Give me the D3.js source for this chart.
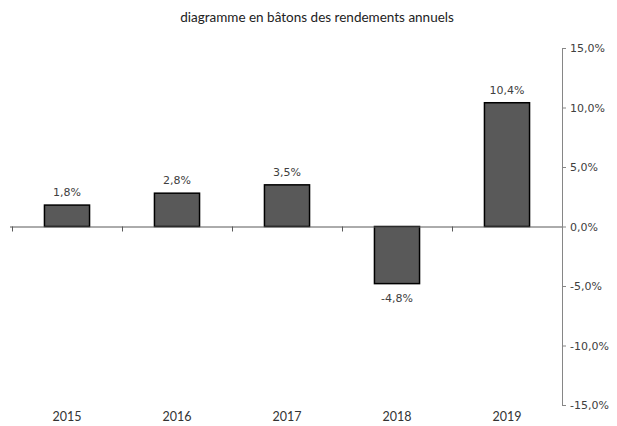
<!DOCTYPE html>
<html>
<head>
<meta charset="utf-8">
<script src="https://cdn.jsdelivr.net/npm/d3@7"></script>
<style>
  body { margin: 0; background: #fff; }
  svg { display: block; }
</style>
</head>
<body>
<svg id="chart" width="617" height="426"></svg>
<script>
// data
let years = ["2015", "2016", "2017", "2018", "2019"];
let returns = [1.8, 2.8, 3.5, -4.8, 10.4];
let yTicks = [-15, -10, -5, 0, 5, 10, 15];

let fmt = v => d3.format(".1f")(v).replace(".", ",").replace("−", "-") + "%";

function createBarChart() {
    let svg = d3.select("#chart");

    // scales
    let xScale = d3.scaleBand()
        .domain(years)
        .range([12, 562])
        .paddingInner(0.59)
        .paddingOuter(0.295);

    let yScale = d3.scaleLinear()
        .domain([-15, 15])
        .range([405, 48]);

    // title
    svg.append("text")
        .attr("x", 317)
        .attr("y", 22)
        .attr("text-anchor", "middle")
        .attr("font-family", "Lato, 'Open Sans', sans-serif")
        .attr("font-size", "13.5px")
        .attr("fill", "#222")
        .text("diagramme en bâtons des rendements annuels");

    // right y axis
    let yAxis = d3.axisRight(yScale)
        .tickValues(yTicks)
        .tickSize(4)
        .tickPadding(4)
        .tickFormat(fmt);
    let yAxisGroup = svg.append("g")
        .attr("transform", "translate(562,0)")
        .call(yAxis);
    yAxisGroup.select(".domain").attr("stroke", "#868686").attr("d", "M4,48.5H0.5V405.5H4");
    yAxisGroup.selectAll(".tick line").attr("stroke", "#868686");
    yAxisGroup.selectAll(".tick text")
        .attr("font-family", "'DejaVu Sans', Verdana, sans-serif")
        .attr("font-size", "11px")
        .attr("fill", "#404040");

    // bars
    svg.selectAll(".bar")
        .data(returns)
        .enter()
        .append("rect")
        .attr("class", "bar")
        .attr("x", (d, i) => xScale(years[i]))
        .attr("y", d => yScale(Math.max(0, d)))
        .attr("width", xScale.bandwidth())
        .attr("height", d => Math.abs(yScale(d) - yScale(0)))
        .attr("fill", "#595959")
        .attr("stroke", "#000")
        .attr("stroke-width", 1.5);

    // x axis (zero line) with category ticks
    let xAxis = d3.axisBottom(xScale).tickSize(0).tickFormat("");
    let xAxisGroup = svg.append("g")
        .attr("transform", `translate(0, ${yScale(0)})`)
        .call(xAxis);
    xAxisGroup.select(".domain").attr("stroke", "#595959").attr("d", "M10,0.5H562");
    let step = xScale.step();
    let bounds = d3.range(years.length).map(i => xScale(years[i]) - xScale.paddingInner() * step / 2);
    xAxisGroup.selectAll(".sep")
        .data(bounds)
        .enter()
        .append("line")
        .attr("x1", d => Math.round(d) + 0.5)
        .attr("x2", d => Math.round(d) + 0.5)
        .attr("y1", 0)
        .attr("y2", 5)
        .attr("stroke", "#595959");

    // year labels at bottom
    svg.selectAll(".year")
        .data(years)
        .enter()
        .append("text")
        .attr("x", d => xScale(d) + xScale.bandwidth() / 2)
        .attr("y", 421)
        .attr("text-anchor", "middle")
        .attr("font-family", "Lato, 'Open Sans', sans-serif")
        .attr("font-size", "12.5px")
        .attr("fill", "#333")
        .text(d => d);

    // value labels
    svg.selectAll(".val")
        .data(returns)
        .enter()
        .append("text")
        .attr("x", (d, i) => xScale(years[i]) + xScale.bandwidth() / 2)
        .attr("y", d => d >= 0 ? yScale(d) - 9 : yScale(d) + 18)
        .attr("text-anchor", "middle")
        .attr("font-family", "'DejaVu Sans', Verdana, sans-serif")
        .attr("font-size", "11px")
        .attr("fill", "#404040")
        .text(d => fmt(d));
}

createBarChart();
</script>
</body>
</html>
